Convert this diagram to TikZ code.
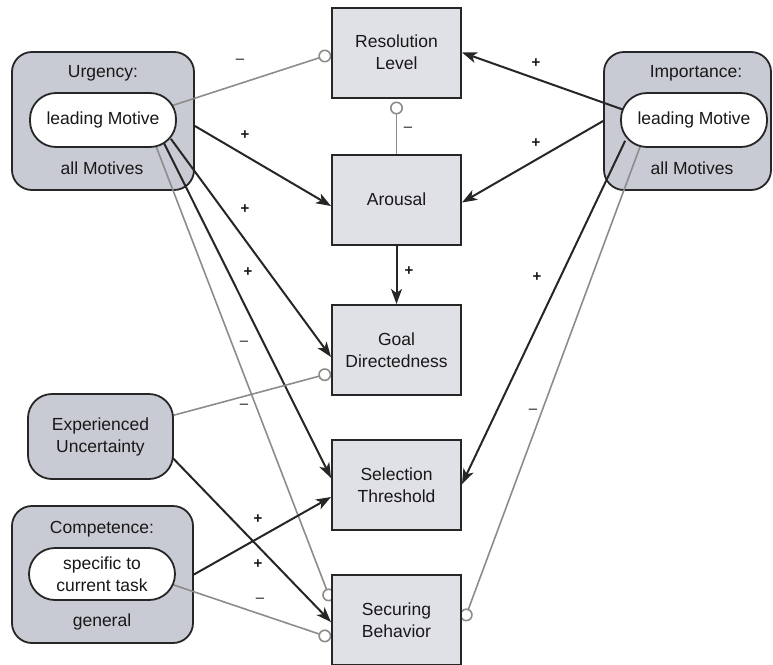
\documentclass[tikz,border=0pt]{standalone}
\usepackage{fontspec}
\setmainfont{Liberation Sans}
\usetikzlibrary{arrows.meta}
\pgfdeclarelayer{back}
\pgfdeclarelayer{front}
\pgfsetlayers{back,main,front}
\definecolor{ink}{HTML}{1A1718}
\definecolor{boxfill}{HTML}{DFE1E6}
\definecolor{groupfill}{HTML}{C9CBD4}
\definecolor{lineblack}{HTML}{262626}
\definecolor{linegray}{HTML}{8C8C8C}
\newcommand{\labelfont}{\fontsize{17.5}{22}\selectfont}
\tikzset{
  stagebox/.style={draw=lineblack, line width=2pt, fill=boxfill, minimum width=129pt,
    minimum height=90pt, align=center, font=\labelfont, text=ink, inner sep=0pt},
  groupbox/.style={draw=lineblack, line width=1.8pt, fill=groupfill, rounded corners=20pt, inner sep=0pt},
  leadbox/.style={draw=lineblack, line width=1.8pt, fill=white, rounded corners=26pt,
    minimum width=146pt, minimum height=54pt, align=center, font=\labelfont, text=ink, inner sep=0pt},
  grouptext/.style={font=\labelfont, text=ink, inner sep=0pt, align=center},
  promote/.style={draw=lineblack, line width=2pt, -{Stealth[length=15pt,width=11pt,inset=4pt]}},
  inhibit/.style={draw=linegray, line width=1.6pt, -{Circle[length=13pt,fill=white]}},
  sign/.style={font=\fontsize{15}{15}\selectfont, text=ink, inner sep=0pt},
  plussign/.style={sign, font=\fontsize{15}{15}\selectfont\bfseries},
}
\begin{document}
\begin{tikzpicture}[x=1pt,y=-1pt]
\useasboundingbox (0,0) rectangle (773,664);

% motive groups (behind the connectors)
\begin{pgfonlayer}{back}
  \node[groupbox, minimum width=182pt, minimum height=138pt] (urg) at (103,121) {};
  \node[grouptext] (urgtitle) at (103,73) {Urgency:};
  \node[grouptext] (urgall) at (102,168) {all Motives};
  \node[groupbox, minimum width=167pt, minimum height=138pt] (imp) at (687.5,121) {};
  \node[grouptext] (imptitle) at (696,73) {Importance:};
  \node[grouptext] (impall) at (692,168) {all Motives};
  \node[groupbox, minimum width=181pt, minimum height=137pt] (comp) at (102.5,574.5) {};
  \node[grouptext] (comptitle) at (102,529) {Competence:};
  \node[grouptext] (compgen) at (102,622) {general};
\end{pgfonlayer}

% inner parts and process boxes (in front of the connectors)
\begin{pgfonlayer}{front}
  \node[leadbox] (urglead) at (103,120) {leading Motive};
  \node[leadbox] (implead) at (694,120) {leading Motive};
  \node[leadbox, minimum height=52pt] (complead) at (102,574) {specific to\\current task};
  \node[groupbox, rounded corners=24pt, minimum width=145pt, minimum height=85pt,
        align=center, font=\labelfont, text=ink] (exp) at (100.5,436.5) {Experienced\\Uncertainty};
  \node[stagebox] (res) at (396.5,52.5) {Resolution\\Level};
  \node[stagebox] (aro) at (396.5,199.5) {Arousal};
  \node[stagebox] (goal) at (396.5,350) {Goal\\Directedness};
  \node[stagebox] (sel) at (396.5,485) {Selection\\Threshold};
  \node[stagebox] (sec) at (396.5,620) {Securing\\Behavior};
\end{pgfonlayer}

% urgency influences
\draw[inhibit] ([xshift=-6pt,yshift=14pt]urglead.east) -- ([yshift=-1.5pt]res.west);
\draw[promote] ([yshift=-5pt]urg.east) -- ([yshift=-6.5pt]aro.west);
\draw[promote] ([xshift=-6pt,yshift=9pt]urglead.south east) -- ([yshift=-7pt]goal.west);
\draw[promote] ([xshift=-13pt,yshift=5pt]urglead.south east) -- ([yshift=7pt]sel.west);
\draw[inhibit] ([xshift=-21pt,yshift=2pt]urglead.south east) -- ([yshift=19pt]sec.west);

% importance influences
\draw[promote] ([xshift=4pt,yshift=10pt]implead.west) -- (res.east);
\draw[promote] (imp.west) -- ([yshift=-3pt]aro.east);
\draw[promote] ([xshift=5pt,yshift=7pt]implead.south west) -- ([yshift=1pt]sel.east);
\draw[inhibit] ([xshift=21pt,yshift=4pt]implead.south west) -- ([xshift=2pt,yshift=-1pt]sec.east);

% central chain
\draw[inhibit] (aro.north) -- ([yshift=-3pt]res.south);
\draw[promote] (aro.south) -- (goal.north);

% uncertainty and competence
\draw[inhibit] ([xshift=-5pt,yshift=20pt]exp.east) -- ([yshift=-23pt]goal.west);
\draw[promote] ([xshift=-5pt,yshift=-17.5pt]exp.east) -- ([yshift=-2pt]sec.west);
\draw[promote] (comp.east) -- ([yshift=-12pt]sel.west);
\draw[inhibit] ([xshift=-5pt,yshift=-10pt]complead.east) -- ([yshift=-18pt]sec.west);

% signs of the influences
\node[sign] (s1) at (240,61) {–};
\node[plussign] (s2) at (245,135) {+};
\node[plussign] (s3) at (245,209) {+};
\node[plussign] (s4) at (248,272) {+};
\node[sign] (s5) at (244,343) {–};
\node[sign] (s6) at (244,406) {–};
\node[plussign] (s7) at (258,519) {+};
\node[plussign] (s8) at (258,564) {+};
\node[sign] (s9) at (260,600) {–};
\node[plussign] (s10) at (536,63) {+};
\node[plussign] (s11) at (536,143) {+};
\node[plussign] (s12) at (537,277) {+};
\node[sign] (s13) at (533,411) {–};
\node[sign] (s14) at (408,129) {–};
\node[plussign] (s15) at (409,271) {+};
\end{tikzpicture}
\end{document}
